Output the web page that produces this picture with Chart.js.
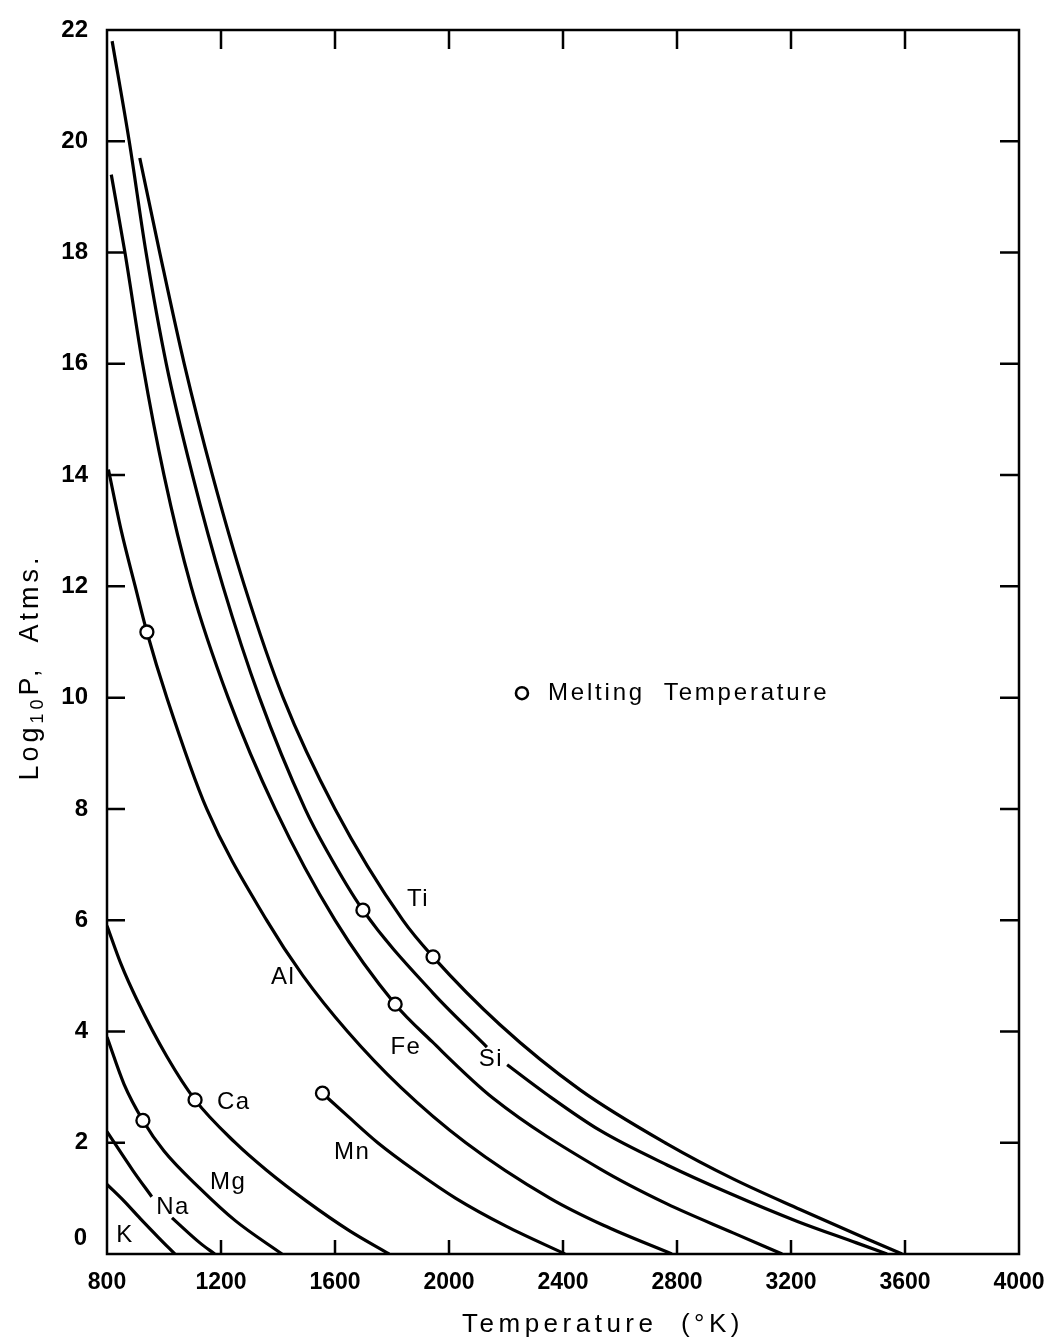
<!DOCTYPE html>
<html>
<head>
<meta charset="utf-8">
<script src="https://cdn.jsdelivr.net/npm/chart.js@4.4.0/dist/chart.umd.min.js"></script>
<style>
  html, body { margin: 0; padding: 0; background: #fff; }
  canvas { display: block; }
</style>
</head>
<body>
<canvas id="vaporChart" width="1052" height="1339"></canvas>
<script>
// temperature (K) / log10 P (atm) pairs, one pair of arrays per element
// null = gap in the line where the label sits
const kTemp  = [800, 860, 916, 980, 1038];
const kLogP  = [1.25, 0.95, 0.64, 0.3, 0];

const naTemp = [800, 891, 957, 990, 1028, 1126, 1178];
const naLogP = [2.2, 1.5, 1.03, null, 0.65, 0.2, 0];

const mgTemp = [800, 860, 926, 1000, 1126, 1250, 1414];
const mgLogP = [3.9, 3.05, 2.4, 1.85, 1.18, 0.6, 0];

const caTemp = [800, 850, 905, 1010, 1109, 1250, 1361, 1500, 1650, 1790];
const caLogP = [5.9, 5.2, 4.57, 3.55, 2.77, 2.0, 1.5, 0.95, 0.42, 0];

const mnTemp = [1556, 1640, 1750, 1880, 2024, 2200, 2407];
const mnLogP = [2.89, 2.5, 2.0, 1.5, 1.0, 0.5, 0];

const alTemp = [805, 850, 899, 940, 1010, 1150, 1360, 1488, 1644, 1830, 2059, 2355, 2540, 2782];
const alLogP = [14.1, 13.0, 12.0, 11.18, 10.0, 8.0, 6.0, 5.0, 4.0, 3.0, 2.0, 1.0, 0.52, 0];

const feTemp = [815, 863, 925, 1000, 1095, 1225, 1390, 1600, 1811, 1940, 2155, 2530, 2765, 2997, 3169];
const feLogP = [19.4, 18.0, 16.0, 14.0, 12.0, 10.0, 8.0, 6.0, 4.49, 3.82, 2.8, 1.53, 0.9, 0.38, 0];

const siTemp = [818, 878, 937, 1008, 1100, 1207, 1335, 1495, 1570, 1698, 1944, 2133, 2170, 2204, 2340, 2530, 2765, 2980, 3225, 3430, 3537];
const siLogP = [21.8, 20.0, 18.0, 16.0, 14.0, 12.0, 10.0, 8.0, 7.26, 6.18, 4.69, 3.72, null, 3.4, 2.88, 2.22, 1.6, 1.1, 0.58, 0.2, 0];

const tiTemp = [915, 985, 1071, 1170, 1283, 1418, 1600, 1838, 1944, 2179, 2460, 2765, 2997, 3232, 3467, 3590];
const tiLogP = [19.7, 18.0, 16.0, 14.0, 12.0, 10.0, 8.0, 6.0, 5.34, 4.12, 2.95, 1.98, 1.35, 0.8, 0.27, 0];

// melting temperatures (open circles): Mg, Al, Ca, Mn, Si, Fe, Ti
const meltTemp = [926, 940, 1109, 1556, 1698, 1811, 1944];
const meltLogP = [2.40, 11.18, 2.77, 2.89, 6.18, 4.49, 5.34];

// curve labels, placed in data units
const labelNames = ['K', 'Na', 'Mg', 'Ca', 'Mn', 'Al', 'Fe', 'Si', 'Ti'];
const labelTemp  = [863, 1032, 1225, 1245, 1660, 1418, 1849, 2147, 1891];
const labelLogP  = [0.34, 0.84, 1.29, 2.73, 1.83, 4.98, 3.72, 3.49, 6.38];

// key: "o Melting Temperature"
const keyTemp = [2256];
const keyLogP = [10.08];
const keyText = 'Melting  Temperature';

const tempTicks = [800, 1200, 1600, 2000, 2400, 2800, 3200, 3600, 4000];
const logPTicks = [0, 2, 4, 6, 8, 10, 12, 14, 16, 18, 20, 22];

const FONT = '"Liberation Sans", Arial, Helvetica, sans-serif';

const curves = [
  [kTemp, kLogP], [naTemp, naLogP], [mgTemp, mgLogP], [caTemp, caLogP], [mnTemp, mnLogP],
  [alTemp, alLogP], [feTemp, feLogP], [siTemp, siLogP], [tiTemp, tiLogP]
];

const toPoints = (xs, ys) => xs.map((x, i) => ({ x: x, y: ys[i] }));

const circleStyle = {
  type: 'scatter',
  showLine: false,
  pointRadius: 6.5,
  pointBorderWidth: 2.3,
  pointBorderColor: '#000',
  pointBackgroundColor: '#fff',
  order: -1
};

const datasets = [
  Object.assign({ data: toPoints(meltTemp, meltLogP) }, circleStyle),
  Object.assign({ data: toPoints(keyTemp, keyLogP) }, circleStyle, { pointRadius: 6, pointBorderWidth: 2.6 })
];
curves.forEach(([t, p]) => {
  datasets.push({
    data: toPoints(t, p),
    borderColor: '#000',
    borderWidth: 3.2,
    pointRadius: 0,
    fill: false,
    spanGaps: false,
    cubicInterpolationMode: 'monotone'
  });
});

// frame, inward ticks, curve labels, axis titles
const overlay = {
  id: 'overlay',
  afterDraw(chart) {
    const { ctx, chartArea: a, scales: { x, y } } = chart;
    ctx.save();
    ctx.strokeStyle = '#000';
    ctx.lineWidth = 2.5;
    ctx.strokeRect(a.left, a.top, a.right - a.left, a.bottom - a.top);

    ctx.beginPath();
    tempTicks.slice(1, -1).forEach(v => {
      const px = x.getPixelForValue(v);
      ctx.moveTo(px, a.bottom); ctx.lineTo(px, a.bottom - 14);
      ctx.moveTo(px, a.top); ctx.lineTo(px, a.top + 19);
    });
    logPTicks.slice(1, -1).forEach(v => {
      const py = y.getPixelForValue(v);
      ctx.moveTo(a.left, py); ctx.lineTo(a.left + 18, py);
      ctx.moveTo(a.right, py); ctx.lineTo(a.right - 19, py);
    });
    ctx.stroke();

    ctx.fillStyle = '#000';
    ctx.textAlign = 'center';
    ctx.textBaseline = 'middle';
    ctx.font = '24px ' + FONT;
    ctx.letterSpacing = '1.5px';
    labelNames.forEach((name, i) => {
      ctx.fillText(name, x.getPixelForValue(labelTemp[i]), y.getPixelForValue(labelLogP[i]));
    });

    // key text next to its circle
    ctx.textAlign = 'left';
    ctx.letterSpacing = '2.8px';
    ctx.fillText(keyText, x.getPixelForValue(keyTemp[0]) + 26, y.getPixelForValue(keyLogP[0]));

    // the y "0" sits a little above the axis in the original
    ctx.letterSpacing = '0px';
    ctx.textAlign = 'right';
    ctx.font = 'bold 24px ' + FONT;
    ctx.fillText('0', a.left - 20, y.getPixelForValue(0) - 16);

    // x title
    ctx.textAlign = 'center';
    ctx.font = '26px ' + FONT;
    ctx.letterSpacing = '4.5px';
    ctx.fillText('Temperature  (°K)', 603, 1325);

    // y title with subscript, rotated
    ctx.translate(28, 667);
    ctx.rotate(-Math.PI / 2);
    ctx.textAlign = 'left';
    ctx.textBaseline = 'alphabetic';
    ctx.letterSpacing = '4px';
    const big = '27px ' + FONT, small = '18px ' + FONT;
    ctx.font = big;
    const w1 = ctx.measureText('Log').width;
    const w3 = ctx.measureText('P,  Atms.').width;
    ctx.font = small;
    const w2 = ctx.measureText('10').width;
    let cx = -(w1 + w2 + w3) / 2;
    const base = 10;
    ctx.font = big;
    ctx.fillText('Log', cx, base); cx += w1;
    ctx.font = small;
    ctx.fillText('10', cx, base + 5); cx += w2;
    ctx.font = big;
    ctx.fillText('P,  Atms.', cx, base);
    ctx.restore();
  }
};

new Chart(document.getElementById('vaporChart'), {
  type: 'line',
  data: { datasets: datasets },
  options: {
    responsive: false,
    animation: false,
    layout: { padding: { top: 30, right: 33, left: 0, bottom: 0 } },
    plugins: { legend: { display: false }, tooltip: { enabled: false } },
    scales: {
      x: {
        type: 'linear',
        min: 800,
        max: 4000,
        afterBuildTicks: s => { s.ticks = tempTicks.map(v => ({ value: v })); },
        afterFit: s => { s.height = 85; s.paddingLeft = 0; s.paddingRight = 0; },
        grid: { display: false, drawTicks: false },
        border: { display: false },
        ticks: {
          padding: 15,
          color: '#000',
          autoSkip: false,
          maxRotation: 0,
          font: { family: FONT, size: 23, weight: 'bold' },
          callback: v => String(v)
        }
      },
      y: {
        type: 'linear',
        min: 0,
        max: 22,
        afterBuildTicks: s => { s.ticks = logPTicks.map(v => ({ value: v })); },
        afterFit: s => { s.width = 107; s.paddingTop = 0; s.paddingBottom = 0; },
        grid: { display: false, drawTicks: false },
        border: { display: false },
        ticks: {
          padding: 19,
          color: '#000',
          font: { family: FONT, size: 24, weight: 'bold' },
          callback: v => (v === 0 ? '' : String(v))
        }
      }
    }
  },
  plugins: [overlay]
});
</script>
</body>
</html>
